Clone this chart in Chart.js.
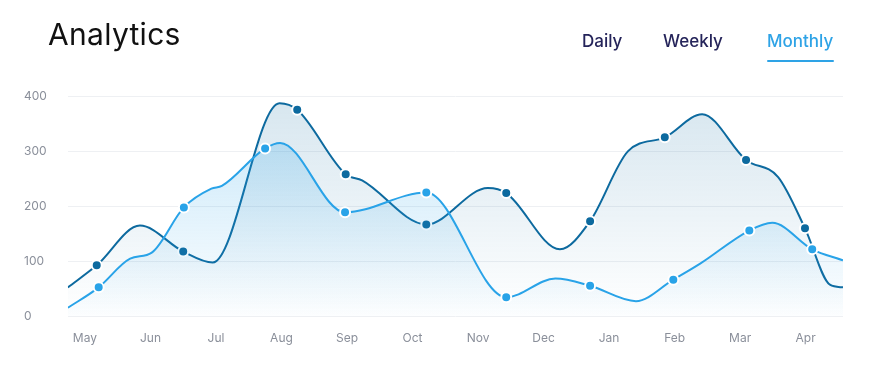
<!DOCTYPE html>
<html>
<head>
<meta charset="utf-8">
<script src="https://cdn.jsdelivr.net/npm/chart.js@4.4.1/dist/chart.umd.min.js"></script>
<style>
	html, body { margin:0; padding:0; background:#fff; }
	#card { position:relative; width:870px; height:370px; background:#fff; border-radius:14px; overflow:hidden; font-family:Inter, "Noto Sans", sans-serif; }
	#title { position:absolute; left:48px; top:16px; font-size:30px; font-weight:400; color:#111; letter-spacing:0.3px; }
	.tab { position:absolute; top:31px; font-size:17px; font-weight:500; color:#25245a; }
	.tab.on { color:#2ea3e6; }
	#line { position:absolute; left:767px; top:60px; width:67px; height:2px; background:#2ea3e6; border-radius:1px; }
	#wrap { position:absolute; left:0; top:0; width:870px; height:370px; }
</style>
</head>
<body>
<div id="card">
	<div id="wrap"><canvas id="chart"></canvas></div>
	<div id="title">Analytics</div>
	<div class="tab" style="left:582px">Daily</div>
	<div class="tab" style="left:663px">Weekly</div>
	<div class="tab on" style="left:767px">Monthly</div>
	<div id="line"></div>
</div>
<script>
// month labels, x = month index (May = 0)
const months = ['May','Jun','Jul','Aug','Sep','Oct','Nov','Dec','Jan','Feb','Mar','Apr'];

// dark series
const darkX      = [-0.26, 0.18, 0.84, 1.50, 1.95, 2.97, 3.24, 3.98, 4.23, 5.21, 6.15, 6.43, 7.25, 7.71, 8.29, 8.85, 9.42, 10.09, 10.58, 10.99, 11.37, 11.57];
const darkValues = [53, 93, 165, 118, 98, 387, 375, 258, 247, 167, 233, 224, 122, 173, 300, 325, 367, 284, 253, 160, 58, 53];
const darkMarks  = [0, 1, 0, 1, 0, 0, 1, 1, 0, 1, 0, 1, 0, 1, 0, 1, 0, 1, 0, 1, 0, 0];

// light series
const lightX      = [-0.26, 0.21, 0.69, 1.02, 1.51, 1.93, 2.09, 2.75, 2.98, 3.97, 5.21, 6.43, 7.18, 7.71, 8.41, 8.98, 9.39, 10.14, 10.49, 11.10, 11.57];
const lightValues = [16, 53, 105, 116, 198, 232, 237, 305, 315, 189, 225, 35, 69, 56, 28, 67, 96, 156, 170, 122, 102];
const lightMarks  = [0, 1, 0, 0, 1, 0, 0, 1, 0, 1, 1, 1, 0, 1, 0, 1, 0, 1, 0, 1, 0];

const darkCol = '#0d6a9f';
const lightCol = '#29a3e8';

function pts(xs, ys) {
	return xs.map((x, i) => ({x: x, y: ys[i]}));
}

function grad(ctx, area, top, bottom) {
	let g = ctx.createLinearGradient(0, area.top, 0, area.bottom);
	g.addColorStop(0, top);
	g.addColorStop(1, bottom);
	return g;
}

let ctx = document.querySelector('#chart').getContext('2d');
new Chart(ctx, {
	type: 'line',
	data: {
		datasets: [{
			data: pts(lightX, lightValues),
			borderColor: lightCol,
			borderWidth: 2,
			cubicInterpolationMode: 'monotone',
			pointRadius: lightMarks.map(m => m ? 5 : 0),
			pointHoverRadius: 0,
			pointBackgroundColor: lightCol,
			pointBorderColor: '#fff',
			pointBorderWidth: 2,
			fill: 'origin',
			backgroundColor: c => c.chart.chartArea ? grad(c.chart.ctx, c.chart.chartArea, 'rgba(41,163,232,0.28)', 'rgba(41,163,232,0.01)') : 'transparent'
		}, {
			data: pts(darkX, darkValues),
			borderColor: darkCol,
			borderWidth: 2,
			cubicInterpolationMode: 'monotone',
			pointRadius: darkMarks.map(m => m ? 5 : 0),
			pointHoverRadius: 0,
			pointBackgroundColor: darkCol,
			pointBorderColor: '#fff',
			pointBorderWidth: 2,
			fill: 'origin',
			backgroundColor: c => c.chart.chartArea ? grad(c.chart.ctx, c.chart.chartArea, 'rgba(13,106,159,0.17)', 'rgba(13,106,159,0.0)') : 'transparent'
		}]
	},
	options: {
		responsive: true,
		maintainAspectRatio: false,
		animation: false,
		layout: { padding: { left: 24, right: 27, top: 96, bottom: 17 } },
		plugins: { legend: { display: false }, tooltip: { enabled: false } },
		scales: {
			x: {
				type: 'linear',
				min: -0.26,
				max: 11.57,
				grid: { display: false },
				border: { display: false },
				afterBuildTicks: axis => { axis.ticks = months.map((m, i) => ({value: i})); },
				ticks: {
					callback: v => months[v],
					color: '#8a8f9a',
					font: { family: 'Inter', size: 12 },
					padding: 7,
					maxRotation: 0,
					autoSkip: false
				}
			},
			y: {
				min: 0,
				max: 400,
				grid: { color: '#eef0f3', drawTicks: false },
				border: { display: false },
				ticks: {
					stepSize: 100,
					color: '#8a8f9a',
					font: { family: 'Inter', size: 12 },
					padding: 10.5,
					crossAlign: 'far'
				}
			}
		}
	}
});
</script>
</body>
</html>
